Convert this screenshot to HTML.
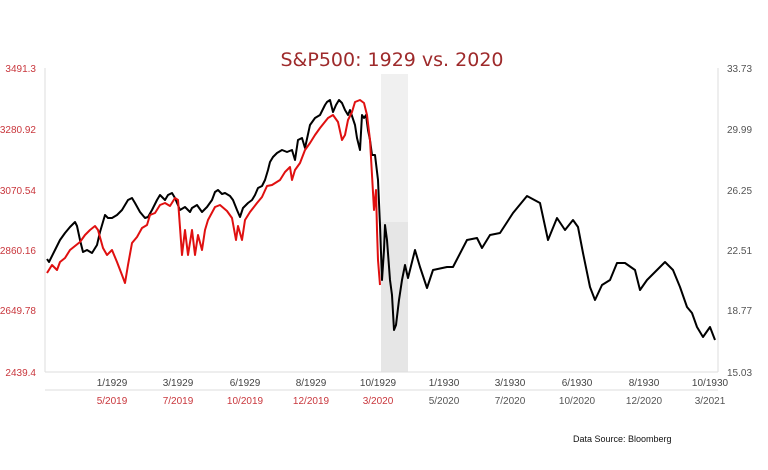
<!DOCTYPE html><html><head><style>body{margin:0;background:#fff}svg text{font-family:"Liberation Sans",sans-serif}</style></head><body>
<svg width="768" height="465" viewBox="0 0 768 465" xmlns="http://www.w3.org/2000/svg">
<rect width="768" height="465" fill="#fff"/>
<text x="392" y="66" font-size="19" fill="#9e2a2b" text-anchor="middle" font-family="DejaVu Sans, sans-serif" style="font-family:'DejaVu Sans',sans-serif">S&amp;P500: 1929 vs. 2020</text>
<rect x="381" y="74" width="27" height="298" fill="#f0f0f0"/>
<rect x="381" y="222" width="27" height="150" fill="#e6e6e6"/>
<line x1="45" y1="68" x2="45" y2="372" stroke="#ddd"/>
<line x1="718" y1="68" x2="718" y2="372" stroke="#ddd"/>
<line x1="45" y1="372" x2="718" y2="372" stroke="#ddd"/>
<line x1="45" y1="390" x2="718" y2="390" stroke="#ddd"/>
<g font-size="10" fill="#c9373d" text-anchor="end">
<text x="36" y="72">3491.3</text><text x="36" y="133">3280.92</text><text x="36" y="194">3070.54</text><text x="36" y="254">2860.16</text><text x="36" y="314">2649.78</text><text x="36" y="376">2439.4</text></g>
<g font-size="10" fill="#555">
<text x="727" y="72">33.73</text><text x="727" y="133">29.99</text><text x="727" y="194">26.25</text><text x="727" y="254">22.51</text><text x="727" y="314">18.77</text><text x="727" y="376">15.03</text></g>
<g font-size="10" fill="#444" text-anchor="middle">
<text x="112" y="386">1/1929</text><text x="178" y="386">3/1929</text><text x="245" y="386">6/1929</text><text x="311" y="386">8/1929</text><text x="378" y="386">10/1929</text><text x="444" y="386">1/1930</text><text x="510" y="386">3/1930</text><text x="577" y="386">6/1930</text><text x="644" y="386">8/1930</text><text x="710" y="386">10/1930</text></g>
<g font-size="10" fill="#c9373d" text-anchor="middle">
<text x="112" y="404">5/2019</text><text x="178" y="404">7/2019</text><text x="245" y="404">10/2019</text><text x="311" y="404">12/2019</text><text x="378" y="404">3/2020</text></g>
<g font-size="10" fill="#555" text-anchor="middle">
<text x="444" y="404">5/2020</text><text x="510" y="404">7/2020</text><text x="577" y="404">10/2020</text><text x="644" y="404">12/2020</text><text x="710" y="404">3/2021</text></g>
<text x="573" y="442" font-size="9" fill="#111">Data Source: Bloomberg</text>
<polyline fill="none" stroke="#000" stroke-width="2" stroke-linejoin="round" points="47,259 49,262 55,250 60,240 65,233 70,227 75,222 77,226 80,240 83,252 87,250 92,253 97,245 100,232 105,215 108,218 112,218 117,215 122,210 125,205 128,200 132,198 135,203 140,212 145,218 148,217 152,210 157,200 160,195 165,200 168,195 172,193 175,198 180,210 185,207 190,212 192,208 197,205 202,212 207,207 212,200 215,192 218,190 222,194 225,193 230,196 233,200 237,210 240,217 243,208 248,203 252,200 255,195 258,188 262,186 265,180 268,170 270,162 273,157 277,153 282,150 287,152 292,150 295,160 298,140 302,138 305,148 310,125 315,118 320,115 325,105 327,102 330,100 333,112 336,105 339,100 342,103 345,110 348,115 350,110 355,125 357,138 360,150 362,115 364,118 366,115 368,130 370,140 372,155 375,155 378,180 380,225 382,280 384,250 385,225 387,240 390,280 392,295 394,330 396,325 399,300 402,280 405,265 408,278 410,270 415,250 420,267 427,288 433,270 447,267 453,267 467,240 477,238 482,248 490,235 500,233 513,213 527,196 540,203 548,240 557,218 565,230 573,220 578,227 583,253 590,287 595,300 602,285 610,280 617,263 625,263 635,270 640,290 647,280 657,270 665,262 673,270 680,287 687,307 692,313 697,327 703,337 710,327 715,340"/>
<polyline fill="none" stroke="#e01010" stroke-width="2" stroke-linejoin="round" points="47,273 52,265 57,270 60,262 65,258 70,250 75,246 80,242 85,235 90,230 95,226 98,230 103,248 107,255 112,250 117,262 122,275 125,283 128,265 132,243 137,237 142,228 147,225 150,215 155,213 160,205 165,203 170,206 175,198 178,200 182,255 185,230 188,255 192,230 195,255 198,235 202,250 205,230 208,220 215,207 220,205 227,211 232,218 236,240 238,226 242,240 245,220 250,212 257,203 262,197 267,186 272,185 280,180 285,172 290,167 292,180 295,170 300,163 305,150 310,143 315,135 320,128 328,118 333,115 338,122 342,140 345,135 348,120 352,112 355,102 360,100 364,103 367,115 370,140 372,175 374,210 376,190 377,230 378,260 380,285"/>
</svg></body></html>
